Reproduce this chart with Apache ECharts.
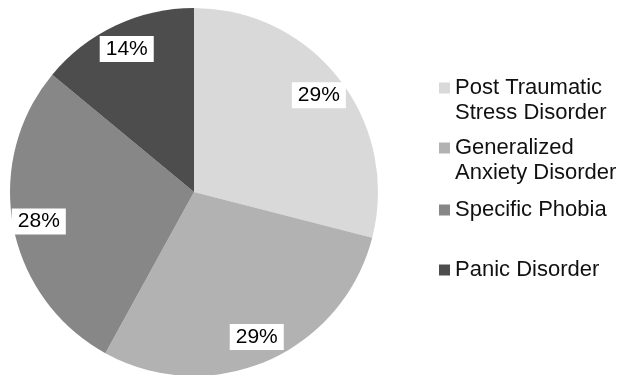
<!DOCTYPE html>
<html>
<head>
<meta charset="utf-8">
<script src="https://cdn.jsdelivr.net/npm/echarts@6/dist/echarts.min.js"></script>
<style>
html,body{margin:0;padding:0;background:#fff;}
#chart{width:622px;height:375px;}
</style>
</head>
<body>
<div id="chart"></div>
<script>
const categories = ['Post Traumatic\nStress Disorder', 'Generalized\nAnxiety Disorder', 'Specific Phobia', 'Panic Disorder'];
const values = [29, 29, 28, 14];
const colors = ['#d9d9d9', '#b2b2b2', '#878787', '#4d4d4d'];

const FONT = "'Liberation Sans', Arial, sans-serif";
const data = categories.map((c, i) => ({ name: c, value: values[i], itemStyle: { color: colors[i] } }));
const labelData = categories.map((c, i) => ({ name: c, value: values[i] }));

const legendIconCenters = [88, 148, 210, 270];
const lineH = 25;
const legends = categories.map((c, i) => {
  const lines = c.split('\n').length;
  const multi = lines > 1;
  const totalLines = multi ? lines + 1 : 1;
  const top = legendIconCenters[i] - (totalLines * lineH) / 2;
  return {
    data: [c],
    left: 439,
    top: top,
    padding: 0,
    orient: 'vertical',
    icon: 'rect',
    itemWidth: 11,
    itemHeight: 11,
    itemGap: 7,
    selectedMode: false,
    formatter: multi ? (n) => '\n' + n : '{name}',
    textStyle: {
      fontFamily: FONT,
      fontSize: 22,
      color: '#111',
      lineHeight: lineH
    }
  };
});

const chart = echarts.init(document.getElementById('chart'), null, { renderer: 'canvas' });
chart.setOption({
  animation: false,
  backgroundColor: '#fff',
  legend: legends,
  series: [
    {
      type: 'pie',
      center: [194, 192],
      radius: [0, 184],
      startAngle: 90,
      clockwise: true,
      label: { show: false },
      labelLine: { show: false },
      itemStyle: { borderWidth: 0 },
      emphasis: { disabled: true },
      data: data
    },
    {
      type: 'pie',
      center: [194, 192],
      radius: [126, 184],
      startAngle: 90,
      clockwise: true,
      silent: true,
      legendHoverLink: false,
      itemStyle: { color: 'rgba(0,0,0,0)' },
      emphasis: { disabled: true },
      label: {
        show: true,
        position: 'inside',
        formatter: '{c}%',
        fontFamily: FONT,
        fontSize: 21,
        color: '#000',
        backgroundColor: '#fff',
        padding: [3, 6, 2, 6]
      },
      labelLine: { show: false },
      data: labelData
    }
  ]
});
</script>
</body>
</html>
